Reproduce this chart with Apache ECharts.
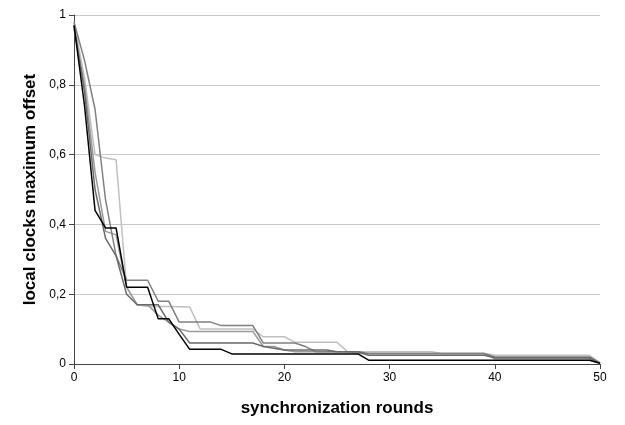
<!DOCTYPE html>
<html>
<head>
<meta charset="utf-8">
<script src="https://cdn.jsdelivr.net/npm/echarts@6/dist/echarts.min.js"></script>
<style>
  html, body { margin: 0; padding: 0; background: #fff; }
  #main { width: 625px; height: 425px; }
</style>
</head>
<body>
<div id="main"></div>
<script>
// rounds 0..50
var rounds = [];
for (var i = 0; i <= 50; i++) rounds.push(i);

// one array per run
var runBlack = [0.97, 0.74, 0.44, 0.39, 0.39, 0.22, 0.22, 0.22, 0.13, 0.13,
  0.085, 0.042, 0.042, 0.042, 0.042, 0.029, 0.029, 0.029, 0.029, 0.029,
  0.029, 0.029, 0.029, 0.029, 0.029, 0.029, 0.029, 0.029, 0.011, 0.011,
  0.011, 0.011, 0.011, 0.011, 0.011, 0.011, 0.011, 0.011, 0.011, 0.011,
  0.011, 0.011, 0.011, 0.011, 0.011, 0.011, 0.011, 0.011, 0.011, 0.011, 0.002];
var runMid = [0.98, 0.87, 0.73, 0.47, 0.31, 0.24, 0.24, 0.24, 0.18, 0.18,
  0.12, 0.12, 0.12, 0.12, 0.11, 0.11, 0.11, 0.11, 0.06, 0.06,
  0.06, 0.06, 0.05, 0.035, 0.035, 0.035, 0.035, 0.035, 0.03, 0.03,
  0.03, 0.03, 0.03, 0.03, 0.03, 0.03, 0.03, 0.03, 0.03, 0.03,
  0.02, 0.02, 0.02, 0.02, 0.02, 0.02, 0.02, 0.02, 0.02, 0.02, 0.003];
var runLight = [0.98, 0.82, 0.6, 0.59, 0.585, 0.22, 0.17, 0.165, 0.165, 0.165,
  0.164, 0.163, 0.1, 0.1, 0.1, 0.1, 0.1, 0.1, 0.078, 0.078,
  0.078, 0.062, 0.062, 0.062, 0.062, 0.062, 0.035, 0.035, 0.035, 0.035,
  0.035, 0.035, 0.035, 0.035, 0.035, 0.03, 0.03, 0.03, 0.03, 0.03,
  0.025, 0.025, 0.025, 0.025, 0.025, 0.025, 0.025, 0.025, 0.025, 0.025, 0.003];
var runGray = [0.96, 0.8, 0.55, 0.38, 0.37, 0.22, 0.17, 0.17, 0.14, 0.12,
  0.1, 0.093, 0.093, 0.093, 0.093, 0.093, 0.093, 0.093, 0.05, 0.05,
  0.04, 0.035, 0.035, 0.035, 0.035, 0.035, 0.035, 0.03, 0.03, 0.03,
  0.03, 0.03, 0.03, 0.03, 0.03, 0.03, 0.03, 0.03, 0.03, 0.03,
  0.015, 0.015, 0.015, 0.015, 0.015, 0.015, 0.015, 0.015, 0.015, 0.015, 0.002];
var runDark = [0.97, 0.78, 0.5, 0.36, 0.31, 0.2, 0.17, 0.17, 0.17, 0.12,
  0.1, 0.06, 0.06, 0.06, 0.06, 0.06, 0.06, 0.06, 0.05, 0.045,
  0.04, 0.04, 0.04, 0.04, 0.04, 0.035, 0.035, 0.035, 0.025, 0.025,
  0.025, 0.025, 0.025, 0.025, 0.025, 0.025, 0.025, 0.025, 0.025, 0.025,
  0.018, 0.018, 0.018, 0.018, 0.018, 0.018, 0.018, 0.018, 0.018, 0.018, 0.002];

var runs = [
  { values: runLight, color: '#c0c0c0' },
  { values: runGray, color: '#9a9a9a' },
  { values: runMid, color: '#808080' },
  { values: runDark, color: '#6a6a6a' },
  { values: runBlack, color: '#000000' }
];

function pairs(vals) {
  return rounds.map(function (r, i) { return [r, vals[i]]; });
}

var chart = echarts.init(document.getElementById('main'));
var font = 'Liberation Sans, Arial, sans-serif';

chart.setOption({
  animation: false,
  grid: { left: 74, right: 25, top: 15, bottom: 61 },
  xAxis: {
    type: 'value',
    min: 0, max: 50, interval: 10,
    name: 'synchronization rounds',
    nameLocation: 'middle',
    nameGap: 36,
    nameTextStyle: { fontFamily: font, fontSize: 17, fontWeight: 'bold', color: '#000' },
    axisLine: { onZero: false, lineStyle: { color: '#444', width: 1 } },
    axisTick: { show: true, length: 5, lineStyle: { color: '#444' } },
    axisLabel: { fontFamily: font, fontSize: 12, color: '#000', margin: 8 },
    splitLine: { show: false }
  },
  yAxis: {
    type: 'value',
    min: 0, max: 1, interval: 0.2,
    name: 'local clocks maximum offset',
    nameLocation: 'middle',
    nameGap: 35,
    nameRotate: 90,
    nameTextStyle: { fontFamily: font, fontSize: 17, fontWeight: 'bold', color: '#000' },
    axisLine: { show: true, lineStyle: { color: '#444', width: 1 } },
    axisTick: { show: true, length: 5, lineStyle: { color: '#444' } },
    axisLabel: {
      fontFamily: font, fontSize: 12, color: '#000', margin: 8,
      formatter: function (v) { return String(Math.round(v * 10) / 10).replace('.', ','); }
    },
    splitLine: { show: true, lineStyle: { color: '#c8c8c8', width: 1 } }
  },
  series: runs.map(function (r) {
    return {
      type: 'line',
      data: pairs(r.values),
      showSymbol: false,
      lineStyle: { color: r.color, width: 1.5 },
      itemStyle: { color: r.color }
    };
  })
});
</script>
</body>
</html>
